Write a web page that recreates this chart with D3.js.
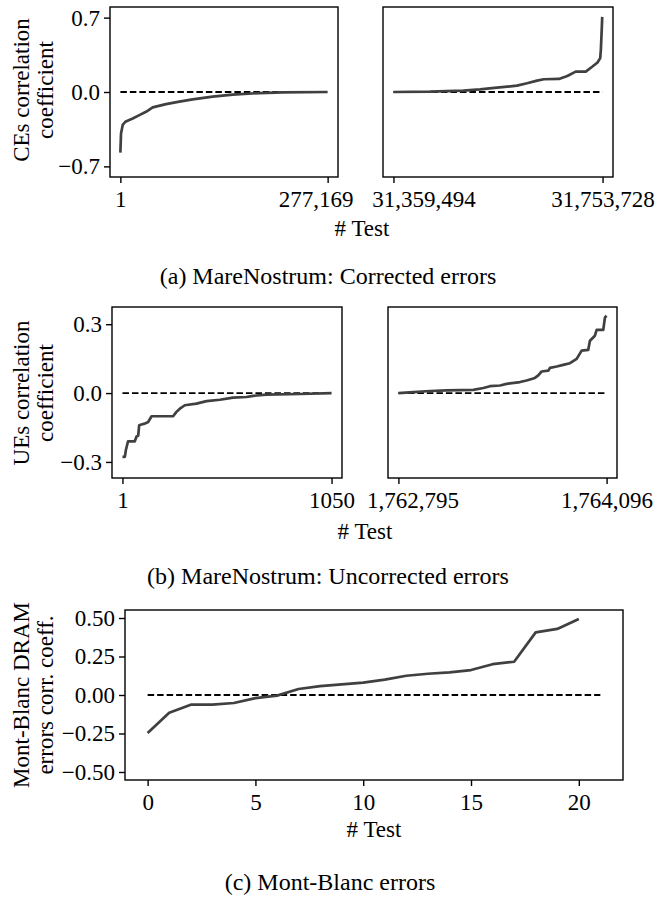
<!DOCTYPE html>
<html>
<head>
<meta charset="utf-8">
<script src="https://cdn.jsdelivr.net/npm/d3@7/dist/d3.min.js"></script>
<style>
  html, body { margin: 0; padding: 0; background: #fff; }
  svg { display: block; }
  text { font-family: "Liberation Serif", "DejaVu Serif", serif; fill: #000; }
</style>
</head>
<body>
<svg id="chart" width="655" height="897"></svg>
<script>
// ---------------- DATA ----------------
// (a) MareNostrum corrected errors, lowest tests
const ceLowX = [1, 892, 3120, 6685, 16488, 25400, 34312, 43224, 61048, 78873, 96697, 123433, 150170, 185818, 217010, 277169];
const ceLowY = [-0.571, -0.39, -0.31, -0.28, -0.25, -0.218, -0.186, -0.145, -0.114, -0.091, -0.069, -0.044, -0.025, -0.010, -0.003, 0.0];
// (a) highest tests
const ceHighX = [31359494, 31427836, 31491115, 31522755, 31554395, 31592363, 31611347, 31630331, 31642987, 31671463, 31687283, 31703103, 31722087, 31734743, 31744235, 31749297, 31750563, 31752461, 31753100];
const ceHighY = [0.0, 0.003, 0.013, 0.025, 0.041, 0.06, 0.082, 0.107, 0.12, 0.123, 0.151, 0.192, 0.192, 0.24, 0.278, 0.319, 0.397, 0.62, 0.707];
const ceLowTicks = [1, 277169];
const ceHighTicks = [31359494, 31753728];
const ceYTicks = [-0.7, 0.0, 0.7];

// (b) MareNostrum uncorrected errors
const ueLowX = [1, 13, 18, 29, 63, 71, 80, 85, 96, 113, 130, 147, 255, 272, 289, 314, 372, 423, 490, 556, 623, 657, 724, 891, 1050];
const ueLowY = [-0.278, -0.278, -0.249, -0.21, -0.21, -0.19, -0.185, -0.14, -0.137, -0.133, -0.126, -0.101, -0.101, -0.082, -0.068, -0.053, -0.046, -0.035, -0.029, -0.02, -0.017, -0.012, -0.007, -0.004, 0.0];
const ueHighX = [1762795, 1762889, 1762993, 1763097, 1763263, 1763326, 1763367, 1763430, 1763471, 1763555, 1763596, 1763648, 1763669, 1763690, 1763732, 1763742, 1763784, 1763825, 1763867, 1763909, 1763940, 1763981, 1763992, 1764023, 1764034, 1764075, 1764086, 1764096];
const ueHighY = [0.0, 0.004, 0.009, 0.012, 0.014, 0.022, 0.030, 0.033, 0.040, 0.048, 0.055, 0.066, 0.077, 0.094, 0.098, 0.110, 0.116, 0.123, 0.130, 0.149, 0.185, 0.188, 0.228, 0.250, 0.275, 0.275, 0.330, 0.337];
const ueLowTicks = [1, 1050];
const ueHighTicks = [1762795, 1764096];
const ueYTicks = [-0.3, 0.0, 0.3];

// (c) Mont-Blanc errors
const mbX = [0, 1, 2, 3, 4, 5, 6, 7, 8, 9, 10, 11, 12, 13, 14, 15, 16, 17, 18, 19, 20];
const mbY = [-0.247, -0.115, -0.063, -0.063, -0.052, -0.02, -0.004, 0.039, 0.058, 0.069, 0.08, 0.10, 0.125, 0.138, 0.147, 0.162, 0.20, 0.216, 0.407, 0.429, 0.494];
const mbRefX = [0, 21];
const mbXTicks = [0, 5, 10, 15, 20];
const mbYTicks = [-0.50, -0.25, 0.00, 0.25, 0.50];

const captions = ["(a) MareNostrum: Corrected errors", "(b) MareNostrum: Uncorrected errors", "(c) Mont-Blanc errors"];
const yLabels = [["CEs correlation", "coefficient"], ["UEs correlation", "coefficient"], ["Mont-Blanc DRAM", "errors corr. coeff."]];
const xLabel = "# Test";

// ---------------- DRAWING ----------------
const svg = d3.select("#chart");
const FS = 23;
const LINE_COLOR = "#404040";

function padded(ext) {
  const r = ext[1] - ext[0];
  return [ext[0] - 0.05 * r, ext[1] + 0.05 * r];
}

function drawPanel(o) {
  const x = d3.scaleLinear().domain(padded(o.refExt)).range([o.left, o.right]);
  const y = d3.scaleLinear().domain(o.yDomain).range([o.bottom, o.top]);
  const g = svg.append("g");

  // reference dashed line at zero
  g.append("path")
    .datum(o.refExt.map(v => [v, 0]))
    .attr("fill", "none").attr("stroke", "#000")
    .attr("stroke-width", 1.8).attr("stroke-dasharray", "6.5,3")
    .attr("d", d3.line().x(d => x(d[0])).y(d => y(d[1])));

  // data line
  const pts = o.xs.map((v, i) => [v, o.ys[i]]);
  g.append("path")
    .datum(pts)
    .attr("fill", "none").attr("stroke", LINE_COLOR)
    .attr("stroke-width", 2.7).attr("stroke-linejoin", "round").attr("stroke-linecap", "butt")
    .attr("d", d3.line().x(d => x(d[0])).y(d => y(d[1])));

  // frame
  g.append("rect")
    .attr("x", o.left).attr("y", o.top)
    .attr("width", o.right - o.left).attr("height", o.bottom - o.top)
    .attr("fill", "none").attr("stroke", "#000").attr("stroke-width", 1.4);

  // x axis
  const xa = g.append("g").attr("transform", `translate(0,${o.bottom})`)
    .call(d3.axisBottom(x).tickValues(o.xTicks).tickFormat(o.xFmt).tickSize(6).tickPadding(8).tickSizeOuter(0));
  xa.select(".domain").remove();
  xa.selectAll(".tick line").attr("stroke", "#000").attr("stroke-width", 1.4);
  xa.selectAll(".tick text").attr("font-size", FS).attr("font-family", "Liberation Serif")
    .attr("dx", (d, i) => (o.xShift ? o.xShift[i] : 0));

  if (o.yTicks) {
    const ya = g.append("g").attr("transform", `translate(${o.left},0)`)
      .call(d3.axisLeft(y).tickValues(o.yTicks).tickFormat(o.yFmt).tickSize(6).tickPadding(4).tickSizeOuter(0));
    ya.select(".domain").remove();
    ya.selectAll(".tick line").attr("stroke", "#000").attr("stroke-width", 1.4);
    ya.selectAll(".tick text").attr("font-size", FS).attr("font-family", "Liberation Serif");
  }
}

function yLabel(lines, cy) {
  const baseX = [29, 53];
  lines.forEach((t, i) => {
    svg.append("text")
      .attr("transform", `translate(${baseX[i]},${cy}) rotate(-90)`)
      .attr("text-anchor", "middle").attr("font-size", FS).text(t);
  });
}

function textAt(t, xPos, yPos, fs) {
  svg.append("text").attr("x", xPos).attr("y", yPos)
    .attr("text-anchor", "middle").attr("font-size", fs).text(t);
}

const fmtComma = d3.format(",");
const fmtPlain = d3.format("d");

// (a)
drawPanel({ left: 110, right: 338, top: 7, bottom: 177, xs: ceLowX, ys: ceLowY,
  refExt: [ceLowTicks[0], ceLowTicks[1]], yDomain: [-0.8, 0.8],
  xTicks: ceLowTicks, xFmt: fmtComma, xShift: [0, -12], yTicks: ceYTicks, yFmt: d3.format(".1f") });
drawPanel({ left: 383, right: 613, top: 7, bottom: 177, xs: ceHighX, ys: ceHighY,
  refExt: [ceHighTicks[0], ceHighTicks[1]], yDomain: [-0.8, 0.8],
  xTicks: ceHighTicks, xFmt: fmtComma, xShift: [30, 0] });
yLabel(yLabels[0], 90);
textAt(xLabel, 362, 236, FS);
textAt(captions[0], 328, 284, 24);

// (b)
drawPanel({ left: 112, right: 342, top: 307, bottom: 478, xs: ueLowX, ys: ueLowY,
  refExt: [ueLowTicks[0], ueLowTicks[1]], yDomain: [-0.37, 0.375],
  xTicks: ueLowTicks, xFmt: fmtPlain, yTicks: ueYTicks, yFmt: d3.format(".1f") });
drawPanel({ left: 388, right: 617, top: 307, bottom: 478, xs: ueHighX, ys: ueHighY,
  refExt: [ueHighTicks[0], ueHighTicks[1]], yDomain: [-0.37, 0.375],
  xTicks: ueHighTicks, xFmt: fmtComma, xShift: [14, 0] });
yLabel(yLabels[1], 393);
textAt(xLabel, 365, 539, FS);
textAt(captions[1], 328, 584, 24);

// (c)
drawPanel({ left: 125, right: 623, top: 610, bottom: 780, xs: mbX, ys: mbY,
  refExt: mbRefX, yDomain: [-0.552, 0.552],
  xTicks: mbXTicks, xFmt: fmtPlain, yTicks: mbYTicks, yFmt: d3.format(".2f") });
yLabel(yLabels[2], 695);
textAt(xLabel, 374, 837, FS);
textAt(captions[2], 330, 890, 24);
</script>
</body>
</html>
